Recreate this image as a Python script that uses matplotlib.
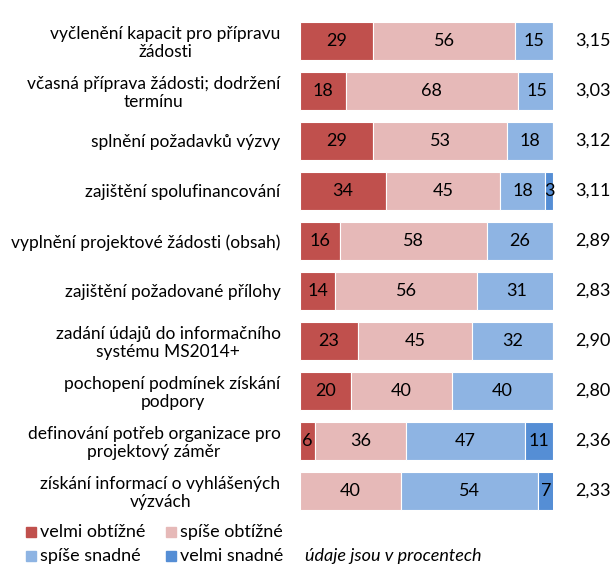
import matplotlib
matplotlib.use("Agg")
import matplotlib.pyplot as plt
from matplotlib.patches import Rectangle
from matplotlib.transforms import blended_transform_factory

plt.rcParams['font.family'] = ['Lato', 'DejaVu Sans']

categories = [
    "vyčlenění kapacit pro přípravu\nžádosti",
    "včasná příprava žádosti; dodržení\ntermínu",
    "splnění požadavků výzvy",
    "zajištění spolufinancování",
    "vyplnění projektové žádosti (obsah)",
    "zajištění požadované přílohy",
    "zadání údajů do informačního\nsystému MS2014+",
    "pochopení podmínek získání\npodpory",
    "definování potřeb organizace pro\nprojektový záměr",
    "získání informací o vyhlášených\nvýzvách",
]
velmi_obtizne = [29, 18, 29, 34, 16, 14, 23, 20, 6, 0]
spise_obtizne = [56, 68, 53, 45, 58, 56, 45, 40, 36, 40]
spise_snadne = [15, 15, 18, 18, 26, 31, 32, 40, 47, 54]
velmi_snadne = [0, 0, 0, 3, 0, 0, 0, 0, 11, 7]
means = ["3,15", "3,03", "3,12", "3,11", "2,89", "2,83", "2,90", "2,80", "2,36", "2,33"]

series = [
    ("velmi obtížné", velmi_obtizne, "#C0504D"),
    ("spíše obtížné", spise_obtizne, "#E6B9B8"),
    ("spíše snadné", spise_snadne, "#8EB4E3"),
    ("velmi snadné", velmi_snadne, "#558ED5"),
]

W, H = 614, 571
fig = plt.figure(figsize=(6.14, 5.71), dpi=100)
ax = fig.add_axes([300/W, 1-516/H, 253/W, 500/H])

y = list(range(len(categories)))
left = [0]*len(categories)
for name, vals, col in series:
    bars = ax.barh(y, vals, left=left, height=0.76, color=col, edgecolor='white', linewidth=0.8)
    for b, v in zip(bars, vals):
        if v > 0:
            ax.text(b.get_x() + b.get_width()/2, b.get_y() + b.get_height()/2, str(v),
                    ha='center', va='center', fontsize=13, color='black')
    left = [l + v for l, v in zip(left, vals)]

ax.set_xlim(0, 100)
ax.set_ylim(len(categories) - 0.5, -0.5)
ax.set_yticks(y)
ax.set_yticklabels(categories, fontsize=12.5)
for t in ax.get_yticklabels():
    t.set_multialignment('center')
    t.set_linespacing(1.15)
ax.tick_params(axis='y', length=0, pad=14)
ax.set_xticks([])
for s in ax.spines.values():
    s.set_visible(False)

tr = blended_transform_factory(ax.transAxes, ax.transData)
for yi, m in zip(y, means):
    ax.text(1.087, yi, m, transform=tr, ha='left', va='center', fontsize=13)

# legend (2 x 2 grid)
legend_pos = [(26, 532), (166, 532), (26, 556), (166, 556)]
for (name, vals, col), (lx, ly) in zip(series, legend_pos):
    fig.patches.append(Rectangle((lx/W, 1-(ly+5)/H), 10/W, 10/H, color=col,
                                 transform=fig.transFigure, figure=fig))
    fig.text((lx+14)/W, 1-ly/H, name, fontsize=13, ha='left', va='center')
fig.text(305/W, 1-556/H, "údaje jsou v procentech", fontsize=13, style='italic',
         ha='left', va='center')

fig.savefig("out.png", dpi=100)
